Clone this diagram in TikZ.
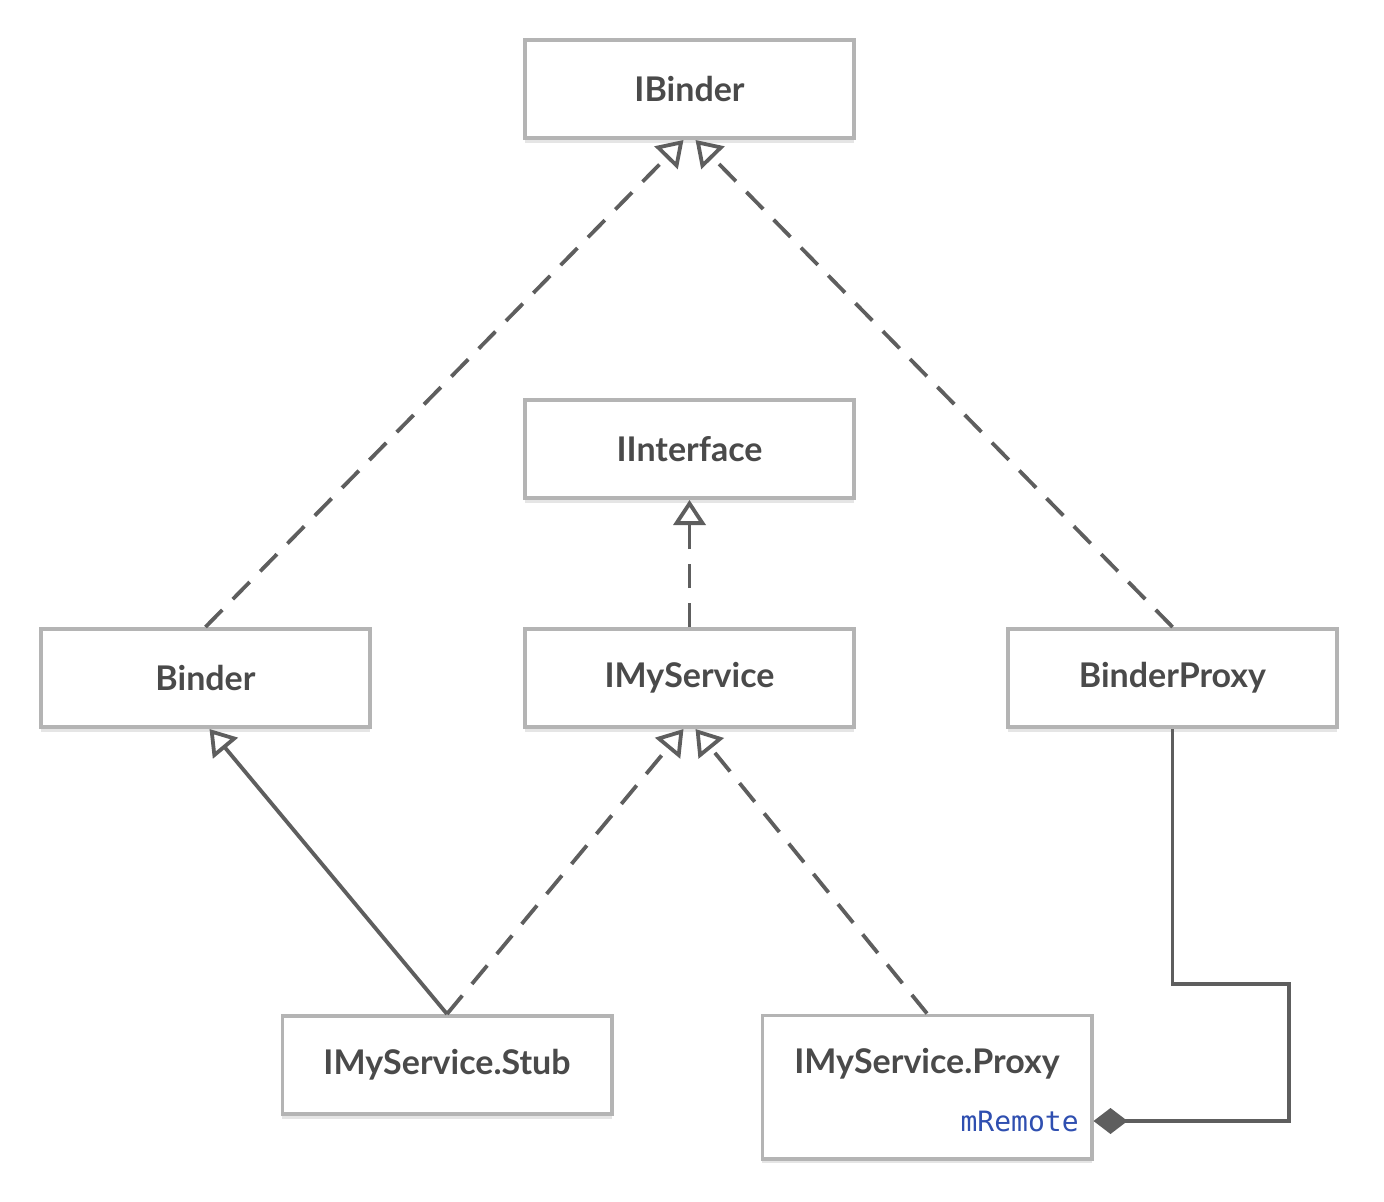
\documentclass[tikz,border=0pt]{standalone}
\usepackage{fontspec}
\setmainfont{Lato}
\setmonofont{DejaVu Sans Mono}
\usetikzlibrary{arrows.meta,shadows}
\definecolor{boxline}{HTML}{B4B4B4}
\definecolor{conn}{HTML}{5E5E5E}
\definecolor{txt}{HTML}{4A4A4A}
\definecolor{mblue}{HTML}{2F4FB0}
\begin{document}
\begin{tikzpicture}[x=0.5pt,y=-0.5pt,
  cls/.style={draw=boxline, line width=1.8pt, fill=white, minimum width=164.7pt, minimum height=49.2pt,
    font=\fontsize{17}{20}\selectfont\bfseries, text=txt,
    general shadow={shadow yshift=-2.2pt, fill=black!10}},
  title/.style={font=\fontsize{17}{20}\selectfont\bfseries, text=txt, inner sep=0pt},
  realize/.style={draw=conn, line width=1.9pt, dash pattern=on 12pt off 7.5pt,
    -{Triangle[open, length=12.5pt, width=16pt, line width=1.9pt]}},
  inherit/.style={draw=conn, line width=1.9pt, -{Triangle[open, length=12.5pt, width=16pt, line width=1.9pt]}},
  comp/.style={draw=conn, line width=1.9pt, -{Diamond[length=17pt, width=13pt, fill=conn]}}]
\useasboundingbox (0,0) rectangle (1384,1202);
\node[cls] (ibinder) at (689.5,89) {IBinder};
\node[cls] (iinterface) at (689.5,449) {IInterface};
\node[cls] (binder) at (205.5,678) {Binder};
\node[cls] (imyservice) at (689.5,678) {IMyService};
\node[cls] (binderproxy) at (1172.5,678) {BinderProxy};
\node[cls] (stub) at (447,1065) {IMyService.Stub};
\node[cls, minimum height=71.7pt] (proxy) at (927,1087) {};
\node[title] (proxytitle) at (927,1064) {IMyService.Proxy};
\node[anchor=east, inner sep=0pt, font=\ttfamily\fontsize{14}{16}\selectfont, text=mblue] (mremote) at (1079,1121) {mRemote};
\coordinate (k1) at (1289,984);
\draw[realize] (binder.north) -- ([xshift=-3pt]ibinder.south);
\draw[realize] (binderproxy.north) -- ([xshift=3pt]ibinder.south);
\draw[realize] (imyservice.north) -- (iinterface.south);
\draw[inherit] (stub.north) -- ([xshift=2pt]binder.south);
\draw[realize] (stub.north) -- ([xshift=-3pt]imyservice.south);
\draw[realize] (proxy.north) -- ([xshift=3pt]imyservice.south);
\draw[comp] (binderproxy.south) |- (k1) |- (proxy.east |- mremote);
\end{tikzpicture}
\end{document}
